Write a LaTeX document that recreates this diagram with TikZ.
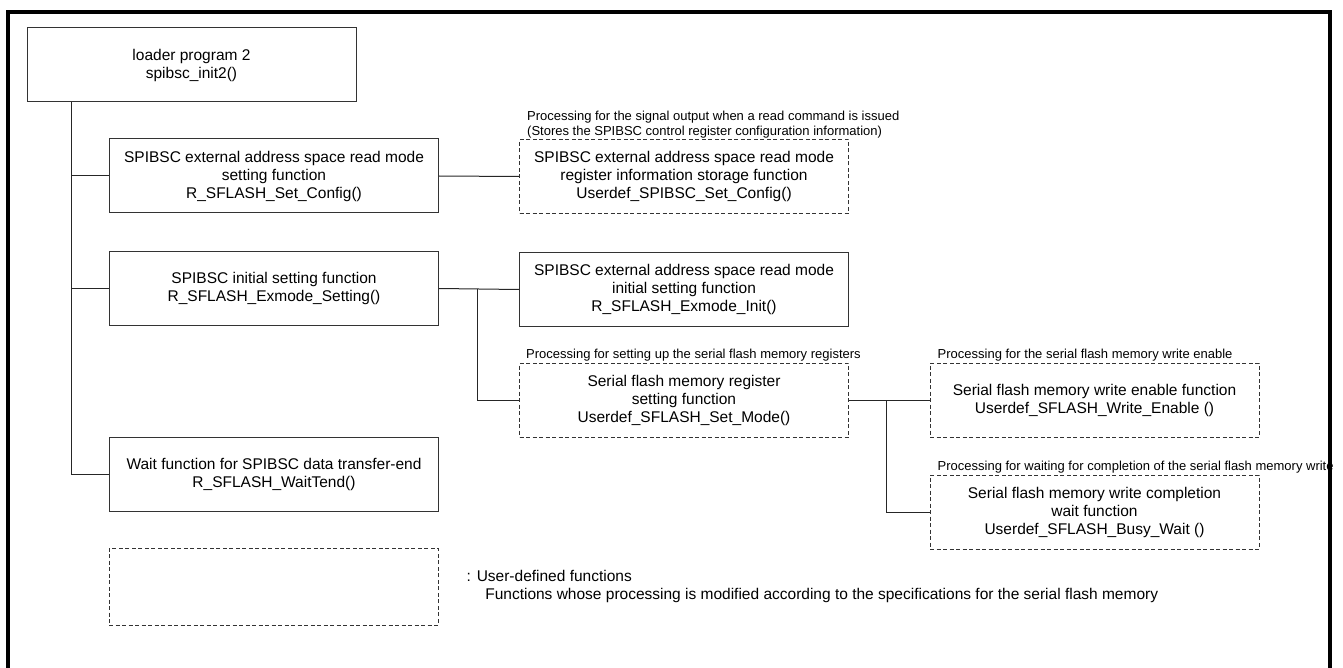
\documentclass[tikz,border=0pt]{standalone}
\usepackage{fontspec}
\setmainfont{Liberation Sans}
\tikzset{
  fnbox/.style={draw=black!80,line width=1pt,rectangle,minimum width=329pt,minimum height=74pt,
    inner sep=0pt,align=center,font=\fontsize{15.5}{18}\selectfont},
  udbox/.style={fnbox,dash pattern=on 4pt off 2.5pt},
  note/.style={anchor=south west,inner sep=0pt,align=left,font=\fontsize{13}{14.5}\selectfont},
  link/.style={draw=black!85,line width=1pt}
}
\begin{document}
\begin{tikzpicture}[x=1pt,y=-1pt]
  \useasboundingbox (0,0) rectangle (1343,668);
  \draw[line width=4pt] (7.5,668) -- (7.5,12) -- (1330,12) -- (1330,668);
  \node[fnbox] (loader) at (191.5,65) {loader program 2\\spibsc\_init2()};
  \node[fnbox] (setcfg) at (274,176) {SPIBSC external address space read mode\\setting function\\R\_SFLASH\_Set\_Config()};
  \node[fnbox] (exset) at (274,288.5) {SPIBSC initial setting function\\R\_SFLASH\_Exmode\_Setting()};
  \node[fnbox] (waittend) at (274,474) {Wait function for SPIBSC data transfer-end\\R\_SFLASH\_WaitTend()};
  \node[udbox] (udcfg) at (684,176.5) {SPIBSC external address space read mode\\register information storage function\\Userdef\_SPIBSC\_Set\_Config()};
  \node[fnbox] (exinit) at (684,289.5) {SPIBSC external address space read mode\\initial setting function\\R\_SFLASH\_Exmode\_Init()};
  \node[udbox] (setmode) at (684,400) {Serial flash memory register\\setting function\\Userdef\_SFLASH\_Set\_Mode()};
  \node[udbox] (wren) at (1094.5,400) {Serial flash memory write enable function\\Userdef\_SFLASH\_Write\_Enable ()};
  \node[udbox] (busy) at (1094.5,512) {Serial flash memory write completion\\wait function\\Userdef\_SFLASH\_Busy\_Wait ()};
  \node[udbox,minimum height=77pt] (legend) at (273.5,586.5) {};
  \node[note] (udcfgnote) at ([xshift=8pt,yshift=1pt]udcfg.north west) {Processing for the signal output when a read command is issued\\(Stores the SPIBSC control register configuration information)};
  \node[note] (setmodenote) at ([xshift=7pt,yshift=1pt]setmode.north west) {Processing for setting up the serial flash memory registers};
  \node[note] (wrennote) at ([xshift=8pt,yshift=1pt]wren.north west) {Processing for the serial flash memory write enable};
  \node[note] (busynote) at ([xshift=8pt,yshift=1pt]busy.north west) {Processing for waiting for completion of the serial flash memory write};
  \node[anchor=west,inner sep=0pt,align=left,font=\fontsize{15.5}{18}\selectfont] (legendtext) at ([xshift=28pt]legend.east)
    {: User-defined functions\\\hspace*{1.2em}Functions whose processing is modified according to the specifications for the serial flash memory};
  \coordinate (trunk) at ([xshift=45pt]loader.south west);
  \draw[link] (trunk) |- (setcfg.west);
  \draw[link] (trunk) |- (exset.west);
  \draw[link] (trunk) |- (waittend.west);
  \draw[link] (setcfg.east) -- (udcfg.west);
  \draw[link] (exset.east) -- (exinit.west);
  \coordinate (split1) at ([xshift=38pt]exset.east);
  \draw[link] (split1) |- (setmode.west);
  \draw[link] (setmode.east) -- (wren.west);
  \coordinate (split2) at ([xshift=37pt]setmode.east);
  \draw[link] (split2) |- (busy.west);
\end{tikzpicture}
\end{document}
